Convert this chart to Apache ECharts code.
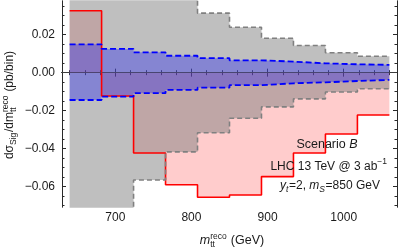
<!DOCTYPE html>
<html><head><meta charset="utf-8">
<script src="https://cdn.jsdelivr.net/npm/echarts@6/dist/echarts.min.js"></script>
<style>html,body{margin:0;padding:0;background:#fff}#c{width:400px;height:252px}</style>
</head><body><div id="c"></div>
<script>
// ---- data ----
const binEdges = [640, 682, 724, 766, 808, 850, 892, 934, 976, 1018, 1060];
const signal    = [0.0326, -0.0123, -0.0423, -0.0590, -0.0656, -0.0644, -0.0547, -0.0423, -0.0323, -0.0223];
const grayUpper = [0.08, 0.08, 0.08, 0.08, 0.0313, 0.0239, 0.0181, 0.0143, 0.0105, 0.0086];
const grayLower = [-0.1, -0.1, -0.0565, -0.0417, -0.0316, -0.0240, -0.0180, -0.0138, -0.0102, -0.0085];
const blueUpper = [0.0149, 0.0125, 0.0107, 0.0089, 0.0076, 0.0065, 0.0058, 0.0049, 0.0044, 0.0041];
const blueLower = [-0.0144, -0.0126, -0.0108, -0.0091, -0.0079, -0.0066, -0.0056, -0.0051, -0.0044, -0.0038];
const xMajor = [700, 800, 900, 1000];
const xMinor = [640, 660, 680, 720, 740, 760, 780, 820, 840, 860, 880, 920, 940, 960, 980, 1020, 1040, 1060];
const yMajor = [-0.06, -0.04, -0.02, 0.00, 0.02];
const yMinor = [-0.07, -0.065, -0.055, -0.05, -0.045, -0.035, -0.03, -0.025, -0.015, -0.01, -0.005, 0.005, 0.01, 0.015, 0.025, 0.03, 0.035];

const FF = '"Liberation Sans", Arial, sans-serif';
const TXT = '#1a1a1a';
const FRAME = '#2a2a2a';

function stepData(vals) {
  const d = vals.map((v, i) => [binEdges[i], v]);
  d.push([binEdges[binEdges.length - 1], vals[vals.length - 1]]);
  return d;
}

// math-like text builder (measured with canvas)
const mctx = document.createElement('canvas').getContext('2d');
function mw(s, font) { mctx.font = font; return mctx.measureText(s).width; }
function mathText(parts, cx, cy, rotation, main, small) {
  main = main || 12; small = small || 8.5;
  const kids = []; let x = 0;
  for (const p of parts) {
    if (p.t !== undefined) {
      const font = (p.italic ? 'italic ' : '') + main + 'px ' + FF;
      kids.push({ x, y: 0, text: p.t, font });
      x += mw(p.t, font);
    } else {
      let w = 0;
      if (p.sub) { const f = (p.subItalic ? 'italic ' : '') + small + 'px ' + FF; kids.push({ x: x + (p.subDx || 0), y: 3.6, text: p.sub, font: f }); w = Math.max(w, mw(p.sub, f) + (p.subDx || 0)); }
      if (p.sup) { const f = small + 'px ' + FF; kids.push({ x, y: -4.6, text: p.sup, font: f }); w = Math.max(w, mw(p.sup, f)); }
      x += w + 0.6;
    }
  }
  const half = x / 2;
  return {
    type: 'group', x: cx, y: cy, rotation: rotation || 0, z: 100,
    children: kids.map(k => ({
      type: 'text', x: k.x - half, y: k.y, z: 100,
      style: { text: k.text, font: k.font, fill: TXT, align: 'left', verticalAlign: 'middle' }
    }))
  };
}

function xAx(pos, ticks, len, labels) {
  return {
    type: 'value', min: 630, max: 1070, position: pos,
    axisLine: { show: true, lineStyle: { color: FRAME, width: 1 } },
    axisTick: { show: true, inside: true, length: len, customValues: ticks, lineStyle: { color: FRAME, width: 1 } },
    axisLabel: labels ? { show: true, customValues: ticks, margin: 5, color: TXT, fontSize: 12, fontFamily: FF,
      formatter: v => String(Math.round(v)) } : { show: false },
    splitLine: { show: false }
  };
}
function yAx(pos, ticks, len, labels) {
  return {
    type: 'value', min: -0.0707, max: 0.0377, position: pos,
    axisLine: { show: true, lineStyle: { color: FRAME, width: 1 } },
    axisTick: { show: true, inside: true, length: len, customValues: ticks, lineStyle: { color: FRAME, width: 1 } },
    axisLabel: labels ? {
      show: true, customValues: ticks, margin: 7, color: TXT, fontSize: 12, fontFamily: FF,
      formatter: v => (v < -1e-9 ? '\u2212' : '') + Math.abs(v).toFixed(2)
    } : { show: false },
    splitLine: { show: false }
  };
}

const chart = echarts.init(document.getElementById('c'), null, { renderer: 'canvas' });
chart.setOption({
  animation: false,
  grid: { left: 62, right: 3, top: 1, bottom: 45, containLabel: false },
  xAxis: [xAx('bottom', xMajor, 4, true), xAx('bottom', xMinor, 2.5, false), xAx('top', xMajor, 4, false), xAx('top', xMinor, 2.5, false)],
  yAxis: [yAx('left', yMajor, 4, true), yAx('left', yMinor, 2.5, false), yAx('right', yMajor, 4, false), yAx('right', yMinor, 2.5, false)],
  series: [
    { type: 'line', step: 'end', data: stepData(signal), symbol: 'none',
      lineStyle: { color: '#ff0000', width: 1.6 }, areaStyle: { color: 'rgba(255,0,0,0.2)', opacity: 1 } },
    { type: 'line', step: 'end', data: stepData(grayUpper), symbol: 'none',
      lineStyle: { color: '#808080', width: 1.6, type: [5, 3] }, areaStyle: { color: 'rgba(128,128,128,0.5)', opacity: 1 } },
    { type: 'line', step: 'end', data: stepData(grayLower), symbol: 'none',
      lineStyle: { color: '#808080', width: 1.6, type: [5, 3] }, areaStyle: { color: 'rgba(128,128,128,0.5)', opacity: 1 } },
    { type: 'line', step: 'end', data: stepData(blueUpper), symbol: 'none',
      lineStyle: { color: '#0000ff', width: 1.8, type: [6, 3] }, areaStyle: { color: 'rgba(0,0,255,0.3)', opacity: 1 } },
    { type: 'line', step: 'end', data: stepData(blueLower), symbol: 'none',
      lineStyle: { color: '#0000ff', width: 1.8, type: [6, 3] }, areaStyle: { color: 'rgba(0,0,255,0.3)', opacity: 1 },
      markLine: { silent: true, symbol: 'none', label: { show: false },
        lineStyle: { color: 'rgba(90,90,90,0.4)', width: 1, type: 'solid' }, data: [{ yAxis: 0 }] } }
  ],
  graphic: [
    mathText([{ t: 'm', italic: true }, { sub: 'tt', sup: 'reco' }, { t: ' (GeV)' }], 232, 241, 0, 12.5, 8.5),
    mathText([{ t: 'd\u03c3' }, { sub: 'Sig' }, { t: '/dm' }, { sub: 'tt', sup: 'reco' }, { t: ' (pb/bin)' }], 10, 105, Math.PI / 2, 12, 8.5),
    mathText([{ t: 'Scenario ' }, { t: 'B', italic: true }], 327, 145, 0, 12.5),
    mathText([{ t: 'LHC 13 TeV @ 3 ab' }, { sup: '\u22121' }], 329, 166.5, 0, 12),
    mathText([{ t: 'y', italic: true }, { sub: 't', subItalic: true }, { t: '=2, ' }, { t: 'm', italic: true }, { sub: 'S', subItalic: true }, { t: '=850 GeV' }], 330, 186, 0, 12)
  ]
});
</script></body></html>
